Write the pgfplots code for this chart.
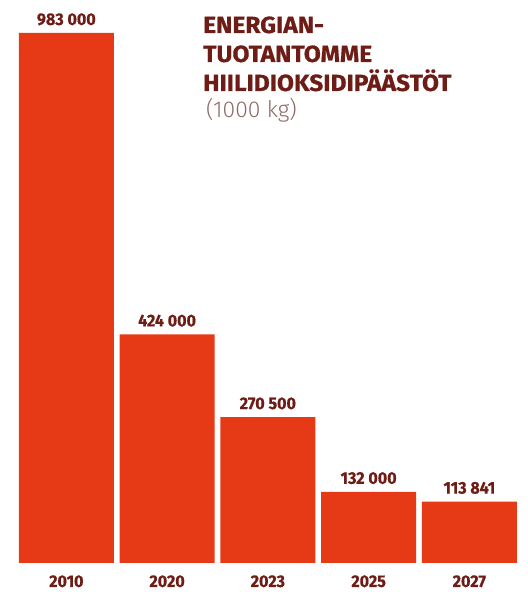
\documentclass[border=0pt]{standalone}
\usepackage{fontspec}
\setmainfont{Fira Sans}[FakeStretch=0.9]
\newfontfamily\xbold{Fira Sans}[FakeStretch=0.95, BoldFeatures={FakeBold=0.5}]
\newfontfamily\xboldw{Fira Sans}[FakeStretch=1.05, BoldFeatures={FakeBold=0.6}]
\newfontfamily\lightfont{Fira Sans Light}[FakeStretch=1.0]
\usepackage{pgfplots}
\pgfplotsset{compat=1.18}
\definecolor{barc}{HTML}{E63A17}
\definecolor{dark}{HTML}{6E1C16}
\definecolor{subc}{HTML}{8C6B66}
\begin{document}
\begin{tikzpicture}[x=1bp,y=1bp]
\path[use as bounding box] (0,0) rectangle (528,592);
\begin{axis}[
  at={(19bp,29bp)}, anchor=south west,
  scale only axis, width=497.7bp, height=530bp,
  xmin=-0.47, xmax=4.47, ymin=0, ymax=983000,
  clip=false, axis line style={draw=none},
  major tick length=0pt, ytick=\empty,
  xtick=data, xticklabels={2010,2020,2023,2025,2027},
  xticklabel style={font=\xbold\bfseries\fontsize{17}{17}\selectfont, text=dark, anchor=base, yshift=-24bp},
  ybar, bar width=0.943,
  point meta=explicit symbolic,
  nodes near coords,
  every node near coord/.append style={font=\xbold\bfseries\fontsize{17}{17}\selectfont, text=dark, anchor=base, yshift=8bp},
]
\addplot[fill=barc, draw=none] coordinates {
  (0,983000) [983 000]
  (1,424000) [424 000]
  (2,270500) [270 500]
  (3,132000) [132 000]
  (4,113841) [113 841]
};
\end{axis}
\begin{scope}[every node/.style={anchor=base west, inner sep=0pt, text=dark, font=\xboldw\bfseries\fontsize{23.5}{23.5}\selectfont}]
\node at (203,559) {ENERGIAN-};
\node at (203,530) {TUOTANTOMME};
\node at (203,501) {HIILIDIOKSIDIPÄÄSTÖT};
\node[text=subc, font=\lightfont\fontsize{23}{23}\selectfont] at (206,474) {(1000 kg)};
\end{scope}
\end{tikzpicture}
\end{document}
